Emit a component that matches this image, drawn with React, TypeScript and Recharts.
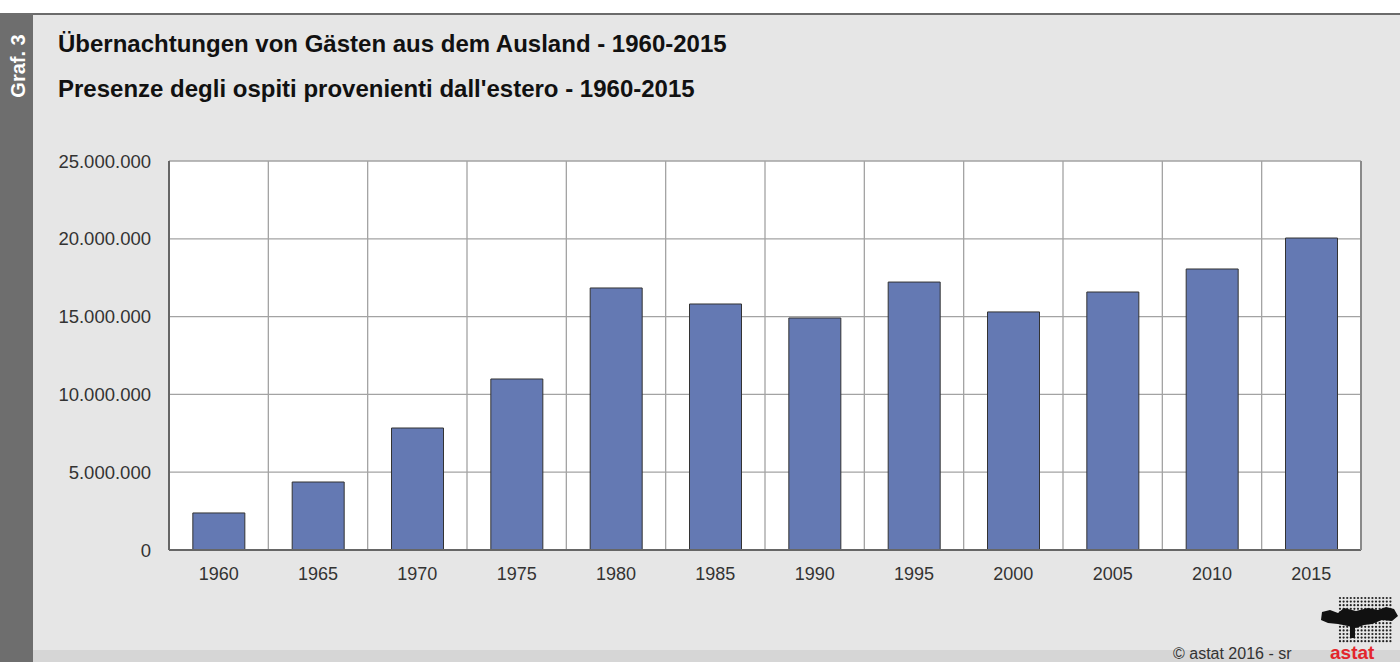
import React from 'react';
import { BarChart, Bar, XAxis, YAxis, CartesianGrid } from 'recharts';

const years = ['1960', '1965', '1970', '1975', '1980', '1985', '1990', '1995', '2000', '2005', '2010', '2015'];
const nights = [2380000, 4370000, 7840000, 10990000, 16840000, 15810000, 14910000, 17220000, 15300000, 16580000, 18060000, 20050000];
const yTicks = [0, 5000000, 10000000, 15000000, 20000000, 25000000];

const titleDe = 'Übernachtungen von Gästen aus dem Ausland - 1960-2015';
const titleIt = "Presenze degli ospiti provenienti dall'estero - 1960-2015";

const data = years.map((y, i) => ({ year: y, value: nights[i] }));

const font = '"Liberation Sans", Arial, sans-serif';

function fmt(v: number) {
  return v.toLocaleString('de-DE');
}

// category boundaries for the vertical grid
const gridX = ({ offset }: any) =>
  [...years, ''].map((_, i) => offset.left + (i * offset.width) / years.length);

function Logo() {
  const dots: React.ReactNode[] = [];
  for (let r = 0; r < 13; r++) {
    for (let c = 0; c < 15; c++) {
      dots.push(<circle key={`${r}-${c}`} cx={24 + c * 3.6} cy={4 + r * 3.6} r={1.1} fill="#222" />);
    }
  }
  return (
    <svg width={84} height={60} style={{ position: 'absolute', left: 1316, top: 594 }}>
      {dots}
      <path
        d="M6 18 L14 16 L22 19 L28 14 L40 17 L52 14 L62 16 L70 13 L78 15 L82 22 L76 27 L66 26 L56 30 L48 31 L40 34 L32 32 L22 30 L12 29 L5 26 Z"
        fill="#111"
      />
      <rect x={34} y={32} width={5} height={12} fill="#111" />
    </svg>
  );
}

export default function App() {
  return (
    <div style={{ position: 'absolute', left: 0, top: 0, width: 1400, height: 662, background: '#fff', overflow: 'hidden', fontFamily: font }}>
      <div style={{ position: 'absolute', left: 0, top: 13, width: 1400, height: 649, background: '#e6e6e6', borderTop: '2px solid #6b6b6b', boxSizing: 'border-box' }} />
      <div style={{ position: 'absolute', left: 0, top: 650, width: 1400, height: 12, background: '#d6d6d6' }} />
      <div style={{ position: 'absolute', left: 0, top: 13, width: 33, height: 649, background: '#6e6e6e' }} />
      <div
        style={{
          position: 'absolute', left: 18, top: 66, transform: 'translate(-50%, -50%) rotate(-90deg)',
          color: '#fff', fontWeight: 'bold', fontSize: 20, whiteSpace: 'nowrap',
        }}
      >
        Graf. 3
      </div>
      <div style={{ position: 'absolute', left: 58, top: 30, fontSize: 24, fontWeight: 'bold', color: '#111', whiteSpace: 'nowrap' }}>{titleDe}</div>
      <div style={{ position: 'absolute', left: 58, top: 75, fontSize: 24, fontWeight: 'bold', color: '#111', whiteSpace: 'nowrap' }}>{titleIt}</div>

      <div style={{ position: 'absolute', left: 0, top: 0 }}>
        <BarChart width={1400} height={662} data={data} margin={{ top: 161, right: 39, bottom: 0, left: 0 }} barCategoryGap="24%">
          <CartesianGrid fill="#fff" stroke="#a3a3a3" strokeWidth={1.3} verticalCoordinatesGenerator={gridX} />
          <XAxis
            dataKey="year"
            tickLine={false}
            axisLine={{ stroke: '#666', strokeWidth: 2 }}
            tickSize={0}
            tickMargin={17}
            height={112}
            tick={{ fill: '#333', fontSize: 18, fontFamily: font }}
          />
          <YAxis
            width={169}
            domain={[0, 25000000]}
            ticks={yTicks}
            tickFormatter={fmt}
            tickLine={false}
            axisLine={{ stroke: '#666', strokeWidth: 2 }}
            tickSize={0}
            tickMargin={18}
            tick={{ fill: '#333', fontSize: 18.5, fontFamily: font }}
          />
          <Bar dataKey="value" fill="#6479b3" stroke="#333" strokeWidth={1} isAnimationActive={false} />
        </BarChart>
      </div>
      <div style={{ position: 'absolute', left: 1360, top: 161, width: 1.5, height: 389, background: '#8a8a8a' }} />

      <Logo />
      <div style={{ position: 'absolute', left: 1173, top: 645, fontSize: 16, color: '#333', whiteSpace: 'nowrap' }}>© astat 2016 - sr</div>
      <div style={{ position: 'absolute', left: 1330, top: 642, fontSize: 19, fontWeight: 'bold', color: '#e3262c' }}>astat</div>
    </div>
  );
}
